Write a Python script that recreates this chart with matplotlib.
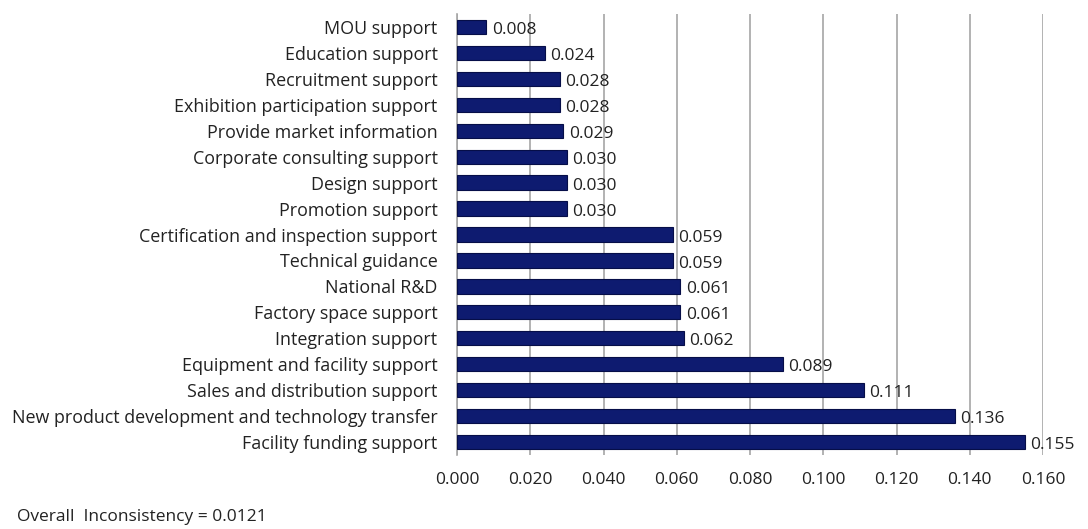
import matplotlib.pyplot as plt
import numpy as np

categories = ["MOU support", "Education support", "Recruitment support",
              "Exhibition participation support", "Provide market information",
              "Corporate consulting support", "Design support", "Promotion support",
              "Certification and inspection support", "Technical guidance",
              "National R&D", "Factory space support", "Integration support",
              "Equipment and facility support", "Sales and distribution support",
              "New product development and technology transfer",
              "Facility funding support"]
weights = [0.008, 0.024, 0.028, 0.028, 0.029, 0.030, 0.030, 0.030,
           0.059, 0.059, 0.061, 0.061, 0.062, 0.089, 0.111, 0.136, 0.155]
ticks = np.arange(0, 0.161, 0.02)

plt.rcParams['font.family'] = ['Open Sans', 'DejaVu Sans']

fig = plt.figure(figsize=(10.88, 5.29), dpi=100)
ax = fig.add_axes([457/1088, 1 - 455/529, 586/1088, 441/529])

y = np.arange(len(categories))
ax.barh(y, weights, height=0.55, color='#0e1b70', edgecolor='#060e48', linewidth=0.8, zorder=3)
for yi, w in zip(y, weights):
    ax.text(w + 0.0015, yi + 0.12, f"{w:.3f}", va='center', ha='left', fontsize=12.5, color='#222222')

ax.set_ylim(len(categories) - 0.5, -0.5)
ax.set_xlim(0, 0.16)
ax.set_yticks(y)
ax.set_yticklabels(categories, fontsize=12.9, color='#222222')
ax.set_xticks(ticks)
ax.set_xticklabels([f"{t:.3f}" for t in ticks], fontsize=12.5, color='#222222')
ax.xaxis.grid(True, color='#a6a6a6', linewidth=1.2, zorder=0)
for s in ['top', 'right', 'bottom']:
    ax.spines[s].set_visible(False)
ax.spines['left'].set_color('#a6a6a6')
ax.spines['left'].set_linewidth(1.2)
ax.tick_params(axis='y', length=0, pad=14)
ax.tick_params(axis='x', length=0, pad=12)

fig.text(17/1088, 1 - 517/529, "Overall  Inconsistency = 0.0121", fontsize=12.5, va='center', color='#222222')

fig.savefig('out.png', dpi=100)
